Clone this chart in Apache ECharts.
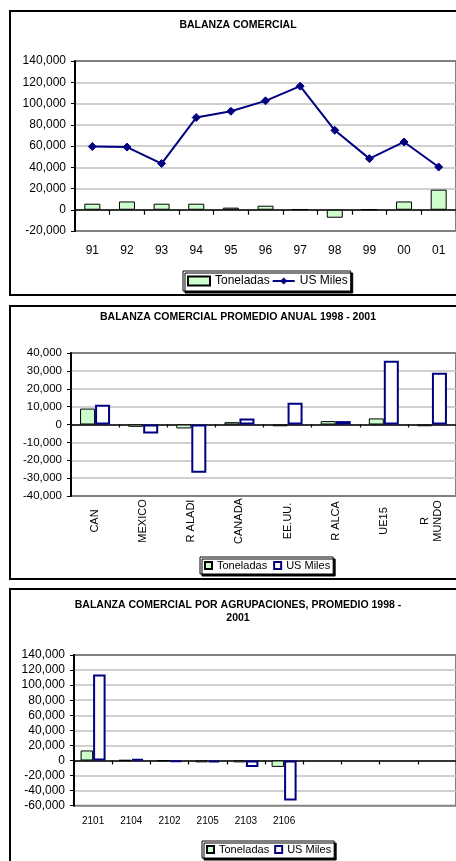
<!DOCTYPE html>
<html>
<head>
<meta charset="utf-8">
<script src="https://cdn.jsdelivr.net/npm/echarts@6/dist/echarts.min.js"></script>
<style>
  html, body { margin: 0; padding: 0; background: #fff; overflow: hidden; width: 456px; height: 861px; }
  .c { position: absolute; left: 0; width: 456px; }
</style>
</head>
<body>
<div id="c1" class="c" style="top:0px;height:300px"></div>
<div id="c2" class="c" style="top:300px;height:284px"></div>
<div id="c3" class="c" style="top:584px;height:277px"></div>
<script>
// ---- Chart 1: BALANZA COMERCIAL ----
const TITLE1 = 'BALANZA COMERCIAL';
const CAT1 = ['91', '92', '93', '94', '95', '96', '97', '98', '99', '00', '01'];
const TON1 = [5700, 7800, 5700, 5700, 2000, 3800, 500, -7500, 300, 7800, 18900];
const USD1 = [59500, 59000, 43500, 86800, 92700, 102500, 116300, 74800, 48100, 63800, 40200];
const Y1_MIN = -20000, Y1_MAX = 140000, Y1_STEP = 20000;

// ---- Chart 2: PROMEDIO ANUAL ----
const TITLE2 = 'BALANZA COMERCIAL PROMEDIO ANUAL 1998 - 2001';
const CAT2 = ['CAN', 'MEXICO', 'R ALADI', 'CANADA', 'EE.UU.', 'R ALCA', 'UE15', 'R\nMUNDO'];
const TON2 = [8900, -1300, -2200, 1300, -1000, 1900, 3400, -1000];
const USD2 = [11000, -5000, -27000, 3400, 12100, 1900, 35700, 28900];
const Y2_MIN = -40000, Y2_MAX = 40000, Y2_STEP = 10000;

// ---- Chart 3: POR AGRUPACIONES ----
const TITLE3 = 'BALANZA COMERCIAL POR AGRUPACIONES, PROMEDIO 1998 -\n2001';
const CAT3 = ['2101', '2104', '2102', '2105', '2103', '2106', '', '', '', ''];
const TON3 = [13300, 400, -400, -2500, -2500, -8500, null, null, null, null];
const USD3 = [114200, 2000, -2000, -2500, -8500, -53100, null, null, null, null];
const Y3_MIN = -60000, Y3_MAX = 140000, Y3_STEP = 20000;

const SERIES_NAMES = ['Toneladas', 'US Miles'];

const FONT = '"Liberation Sans", Arial, sans-serif';
const fmt = v => String(v).replace(/\B(?=(\d{3})+(?!\d))/g, ',');

function frame(y, h, title, titleY) {
  return [
    { type: 'rect', shape: { x: 10, y: y, width: 470, height: h },
      style: { fill: 'none', stroke: '#000', lineWidth: 2 }, z: 100 },
    { type: 'text', x: 238, y: titleY,
      style: { text: title, fill: '#000', font: 'bold 10.5px ' + FONT,
               align: 'center', verticalAlign: 'middle', lineHeight: 13.3 } }
  ];
}

function yAxis(min, max, step, fs, margin) {
  return {
    type: 'value', min: min, max: max, interval: step,
    axisLine: { show: true, lineStyle: { color: '#000', width: 2 } },
    axisTick: { show: true, length: 4, lineStyle: { color: '#000', width: 1 } },
    axisLabel: { formatter: fmt, color: '#000', fontSize: fs, fontFamily: FONT, margin: margin },
    splitLine: { show: true, showMinLine: false, showMaxLine: false,
                 lineStyle: { color: '#c0c0c0', width: 1.5 } }
  };
}

function xAxes(cats, labelCfg, tickLen) {
  return [
    Object.assign({
      type: 'category', data: cats, position: 'bottom',
      axisLine: { show: false, onZero: false },
      axisTick: { show: false },
      splitLine: { show: false }
    }, { axisLabel: Object.assign({ color: '#000', fontFamily: FONT, interval: 0 }, labelCfg) }),
    {
      type: 'category', data: cats, position: 'bottom',
      axisLine: { show: true, onZero: true, lineStyle: { color: '#000', width: 1.5 } },
      axisTick: { show: true, length: tickLen, interval: 0, lineStyle: { color: '#000', width: 1.2 } },
      axisLabel: { show: false },
      splitLine: { show: false }
    }
  ];
}

function legend(left, top, fs, iw, ih, gap, pad) {
  return {
    left: left, top: top, orient: 'horizontal',
    itemWidth: iw, itemHeight: ih, itemGap: gap, padding: pad,
    backgroundColor: '#fff', borderColor: '#000', borderWidth: 1,
    shadowColor: '#000', shadowBlur: 0, shadowOffsetX: 2, shadowOffsetY: 2,
    textStyle: { color: '#000', fontSize: fs, fontFamily: FONT },
    data: [{ name: SERIES_NAMES[0], icon: 'rect' }, SERIES_NAMES[1]],
    selectedMode: false
  };
}

const gridBorder = { show: true, borderColor: '#808080', borderWidth: 2, backgroundColor: 'transparent' };

// ---------- Chart 1 ----------
const ch1 = echarts.init(document.getElementById('c1'), null, { renderer: 'canvas' });
ch1.setOption({
  animation: false,
  graphic: frame(11, 284, TITLE1, 25),
  grid: Object.assign({ left: 75, top: 61, width: 386, height: 170 }, gridBorder),
  xAxis: xAxes(CAT1, { fontSize: 12, margin: 14 }, 5),
  yAxis: yAxis(Y1_MIN, Y1_MAX, Y1_STEP, 12, 9),
  legend: Object.assign(legend(183, 271, 12, 22, 9, 2, [4, 3, 4, 4]),
    { data: [{ name: SERIES_NAMES[0], icon: 'rect' }, SERIES_NAMES[1]] }),
  series: [
    { name: SERIES_NAMES[0], type: 'bar', data: TON1, barWidth: 16, xAxisIndex: 0,
      itemStyle: { color: '#ccffcc', borderColor: '#000', borderWidth: 1 } },
    { name: SERIES_NAMES[1], type: 'line', data: USD1, xAxisIndex: 0,
      symbol: 'diamond', symbolSize: 8, z: 5,
      lineStyle: { color: '#000080', width: 2 },
      itemStyle: { color: '#000080', borderColor: '#000080' } }
  ]
});

// ---------- Chart 2 ----------
const ch2 = echarts.init(document.getElementById('c2'), null, { renderer: 'canvas' });
ch2.setOption({
  animation: false,
  graphic: frame(6, 273, TITLE2, 17.5),
  grid: Object.assign({ left: 71, top: 53, width: 387, height: 143 }, gridBorder),
  xAxis: xAxes(CAT2, { fontSize: 11, rotate: 90, margin: 25, align: 'center',
                       verticalAlign: 'middle', lineHeight: 13 }, 3),
  yAxis: yAxis(Y2_MIN, Y2_MAX, Y2_STEP, 11.5, 9),
  legend: Object.assign(legend(200, 257, 11, 7, 7, 6, [3, 3, 3, 4]),
    { data: [{ name: SERIES_NAMES[0], icon: 'rect' }, { name: SERIES_NAMES[1], icon: 'rect' }] }),
  series: [
    { name: SERIES_NAMES[0], type: 'bar', data: TON2, barWidth: 15, barGap: '0%', xAxisIndex: 0,
      itemStyle: { color: '#ccffcc', borderColor: '#000', borderWidth: 1 } },
    { name: SERIES_NAMES[1], type: 'bar', data: USD2, barWidth: 15, barGap: '0%', xAxisIndex: 0,
      itemStyle: { color: '#ffffff', borderColor: '#000080', borderWidth: 2 } }
  ]
});

// ---------- Chart 3 ----------
const ch3 = echarts.init(document.getElementById('c3'), null, { renderer: 'canvas' });
ch3.setOption({
  animation: false,
  graphic: frame(5, 300, TITLE3, 27.7),
  grid: Object.assign({ left: 74, top: 71, width: 389, height: 150.7 }, gridBorder),
  xAxis: xAxes(CAT3, { fontSize: 10, margin: 11 }, 4),
  yAxis: yAxis(Y3_MIN, Y3_MAX, Y3_STEP, 12, 9),
  legend: Object.assign(legend(202, 257, 11, 7, 7, 5, [3, 3, 3, 4]),
    { data: [{ name: SERIES_NAMES[0], icon: 'rect' }, { name: SERIES_NAMES[1], icon: 'rect' }] }),
  series: [
    { name: SERIES_NAMES[0], type: 'bar', data: TON3, barWidth: 12.5, barGap: '0%', xAxisIndex: 0,
      itemStyle: { color: '#ccffcc', borderColor: '#000', borderWidth: 1 } },
    { name: SERIES_NAMES[1], type: 'bar', data: USD3, barWidth: 12.5, barGap: '0%', xAxisIndex: 0,
      itemStyle: { color: '#ffffff', borderColor: '#000080', borderWidth: 2 } }
  ]
});
</script>
</body>
</html>
